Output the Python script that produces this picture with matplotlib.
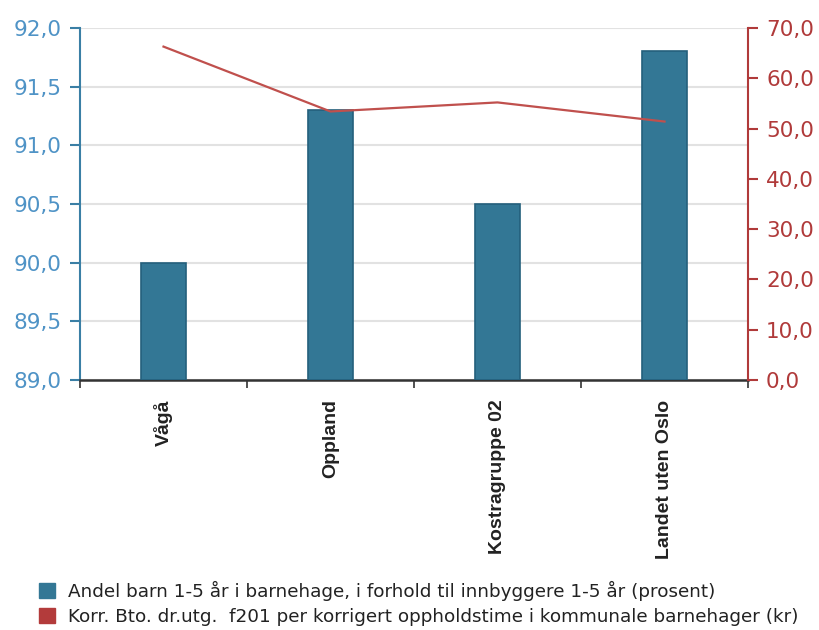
import matplotlib
matplotlib.use("Agg")
import matplotlib.pyplot as plt
from matplotlib.patches import Patch
from matplotlib.ticker import FuncFormatter, FixedLocator
import numpy as np

plt.rcParams['font.family'] = ['DejaVu Sans']

categories = ["Vågå", "Oppland", "Kostragruppe 02", "Landet uten Oslo"]
andel_barn = [90.0, 91.3, 90.5, 91.8]
korr_bto = [66.3, 53.4, 55.2, 51.4]
left_ticks = [89.0, 89.5, 90.0, 90.5, 91.0, 91.5, 92.0]
right_ticks = [0, 10, 20, 30, 40, 50, 60, 70]
legend_labels = [
    "Andel barn 1-5 år i barnehage, i forhold til innbyggere 1-5 år (prosent)",
    "Korr. Bto. dr.utg.  f201 per korrigert oppholdstime i kommunale barnehager (kr)",
]

bar_color = "#337795"
bar_edge = "#24607c"
line_color = "#c0504d"
left_col = "#4f93c6"
left_spine = "#3a7fa5"
right_col = "#b03a3a"

fig = plt.figure(figsize=(8.19, 6.30), dpi=100)
ax = fig.add_axes([80/819, 1-380/630, (748-80)/819, (380-28)/630])
x = np.arange(len(categories))

ax.bar(x, [v - 89.0 for v in andel_barn], bottom=89.0, width=0.27,
       color=bar_color, edgecolor=bar_edge, linewidth=1.2, zorder=3)
ax.set_xlim(-0.5, 3.5)
ax.set_ylim(89.0, 92.0)
ax.yaxis.set_major_locator(FixedLocator(left_ticks))
ax.yaxis.set_major_formatter(FuncFormatter(lambda v, p: f"{v:.1f}".replace(".", ",")))
ax.grid(axis='y', color="#e2e2e2", linewidth=1.5, zorder=0)
ax.set_axisbelow(True)

ax.set_xticks(x)
ax.set_xticklabels(categories, rotation=90, fontsize=14, fontweight='bold', color="#222222",
                   family=['Liberation Sans', 'DejaVu Sans'])
ax.tick_params(axis='x', length=0, pad=14)
ax.set_xticks([-0.5, 0.5, 1.5, 2.5, 3.5], minor=True)
ax.tick_params(axis='x', which='minor', length=6, width=1.2, color="#333333", direction='out')

ax.tick_params(axis='y', colors=left_spine, labelcolor=left_col, labelsize=15.5,
               length=7, width=1.5, pad=6)
for s in ['top', 'right']:
    ax.spines[s].set_visible(False)
ax.spines['left'].set_color(left_spine)
ax.spines['left'].set_linewidth(1.5)
ax.spines['bottom'].set_color("#333333")
ax.spines['bottom'].set_linewidth(1.8)

ax2 = ax.twinx()
ax2.plot(x, korr_bto, color=line_color, linewidth=1.6, zorder=4)
ax2.set_ylim(0, 70)
ax2.yaxis.set_major_locator(FixedLocator(right_ticks))
ax2.yaxis.set_major_formatter(FuncFormatter(lambda v, p: f"{v:.1f}".replace(".", ",")))
ax2.tick_params(axis='y', colors=right_col, labelcolor=right_col, labelsize=15.5,
                length=7, width=1.5, pad=6)
for s in ['top', 'left', 'bottom']:
    ax2.spines[s].set_visible(False)
ax2.spines['right'].set_color(right_col)
ax2.spines['right'].set_linewidth(1.5)

handles = [Patch(facecolor=bar_color, edgecolor=bar_color),
           Patch(facecolor="#b33b3b", edgecolor="#b33b3b")]
fig.legend(handles, legend_labels, loc='upper left', bbox_to_anchor=(33/819, 1-575/630),
           frameon=False, fontsize=13.2, handlelength=0.9, handleheight=0.85,
           handletextpad=0.7, labelspacing=0.38, labelcolor="#222222",
           borderaxespad=0, borderpad=0.3)

fig.savefig("out.png", dpi=100, facecolor="white")
